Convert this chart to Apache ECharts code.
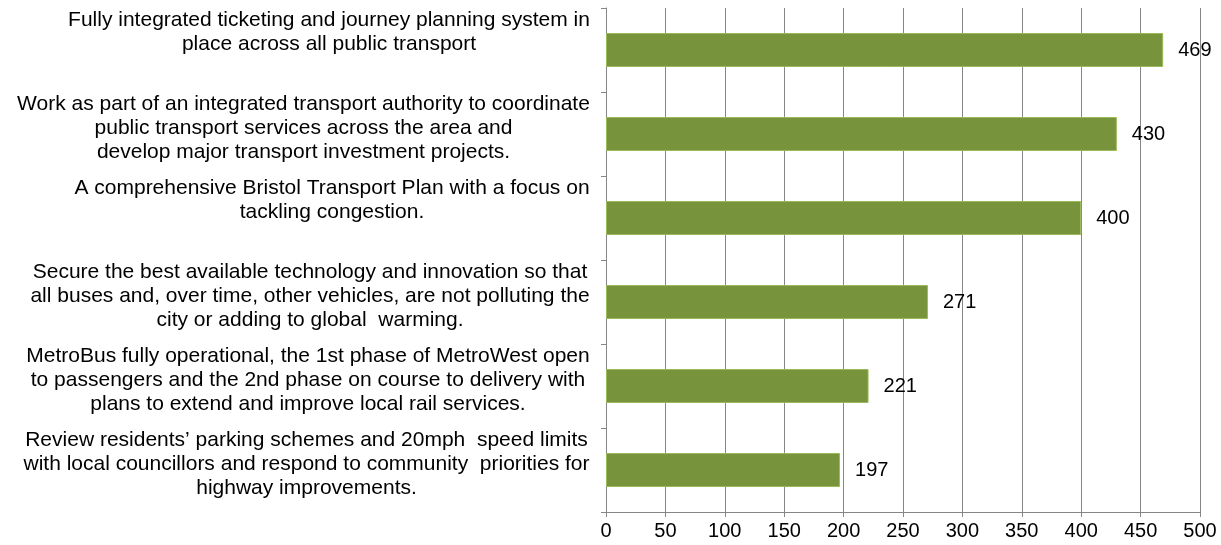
<!DOCTYPE html>
<html><head><meta charset="utf-8">
<script src="https://cdn.jsdelivr.net/npm/echarts@6/dist/echarts.min.js"></script>
<style>html,body{margin:0;padding:0;background:#fff}#c{width:1221px;height:545px}</style>
</head><body><div id="c"></div>
<script>
const categories = [
  ["Fully integrated ticketing and journey planning system in", "place across all public transport"],
  ["Work as part of an integrated transport authority to coordinate", "public transport services across the area and", "develop major transport investment projects."],
  ["A comprehensive Bristol Transport Plan with a focus on", "tackling congestion."],
  ["Secure the best available technology and innovation so that", "all buses and, over time, other vehicles, are not polluting the", "city or adding to global  warming."],
  ["MetroBus fully operational, the 1st phase of MetroWest open", "to passengers and the 2nd phase on course to delivery with", "plans to extend and improve local rail services."],
  ["Review residents\u2019 parking schemes and 20mph  speed limits", "with local councillors and respond to community  priorities for", "highway improvements."]
];
const values = [469, 430, 400, 271, 221, 197];
const xTicks = [0, 50, 100, 150, 200, 250, 300, 350, 400, 450, 500];

const FONT = 'Liberation Sans, Arial, sans-serif';
const FS = 21;
const FSN = 20;
const cv = document.createElement('canvas').getContext('2d');
cv.font = FS + 'px ' + FONT;
const rich = {};
categories.forEach((lines, i) => {
  const w = Math.max(...lines.map(l => cv.measureText(l).width));
  rich['c' + i] = {width: Math.ceil(w), align: 'center', fontSize: FS, fontFamily: FONT, color: '#000', lineHeight: 24};
});
const catNames = categories.map((l, i) => 'k' + i).reverse();
const vals = values.slice().reverse();

const chart = echarts.init(document.getElementById('c'));
chart.setOption({
  animation: false,
  grid: {left: 606, right: 21, top: 8, bottom: 33, containLabel: false},
  xAxis: {
    type: 'value', min: 0, max: 500, interval: 50,
    axisLine: {show: true, lineStyle: {color: '#868686', width: 1}},
    axisTick: {show: true, length: 5, lineStyle: {color: '#868686'}},
    splitLine: {show: true, lineStyle: {color: '#868686', width: 1}},
    axisLabel: {fontSize: FSN, fontFamily: FONT, color: '#000', margin: 9,
      formatter: v => xTicks.includes(v) ? String(v) : ''}
  },
  yAxis: {
    type: 'category', data: catNames,
    axisLine: {show: true, lineStyle: {color: '#868686', width: 1}},
    axisTick: {show: true, length: 5, lineStyle: {color: '#868686'}},
    splitLine: {show: false},
    axisLabel: {
      margin: 16,
      formatter: (v) => {
        const i = +v.slice(1);
        const lines = categories[i].slice();
        while (lines.length < 3) lines.push(' ');
        return lines.map(l => '{c' + i + '|' + l + '}').join('\n');
      },
      rich: rich,
      padding: [0, 0, 12, 0]
    }
  },
  series: [{
    type: 'bar', data: vals, barWidth: 34,
    itemStyle: {color: '#77933C', borderColor: '#9BBB59', borderWidth: 1},
    label: {show: true, position: 'right', distance: 15, fontSize: FSN, fontFamily: FONT, color: '#000'}
  }]
});
</script></body></html>
